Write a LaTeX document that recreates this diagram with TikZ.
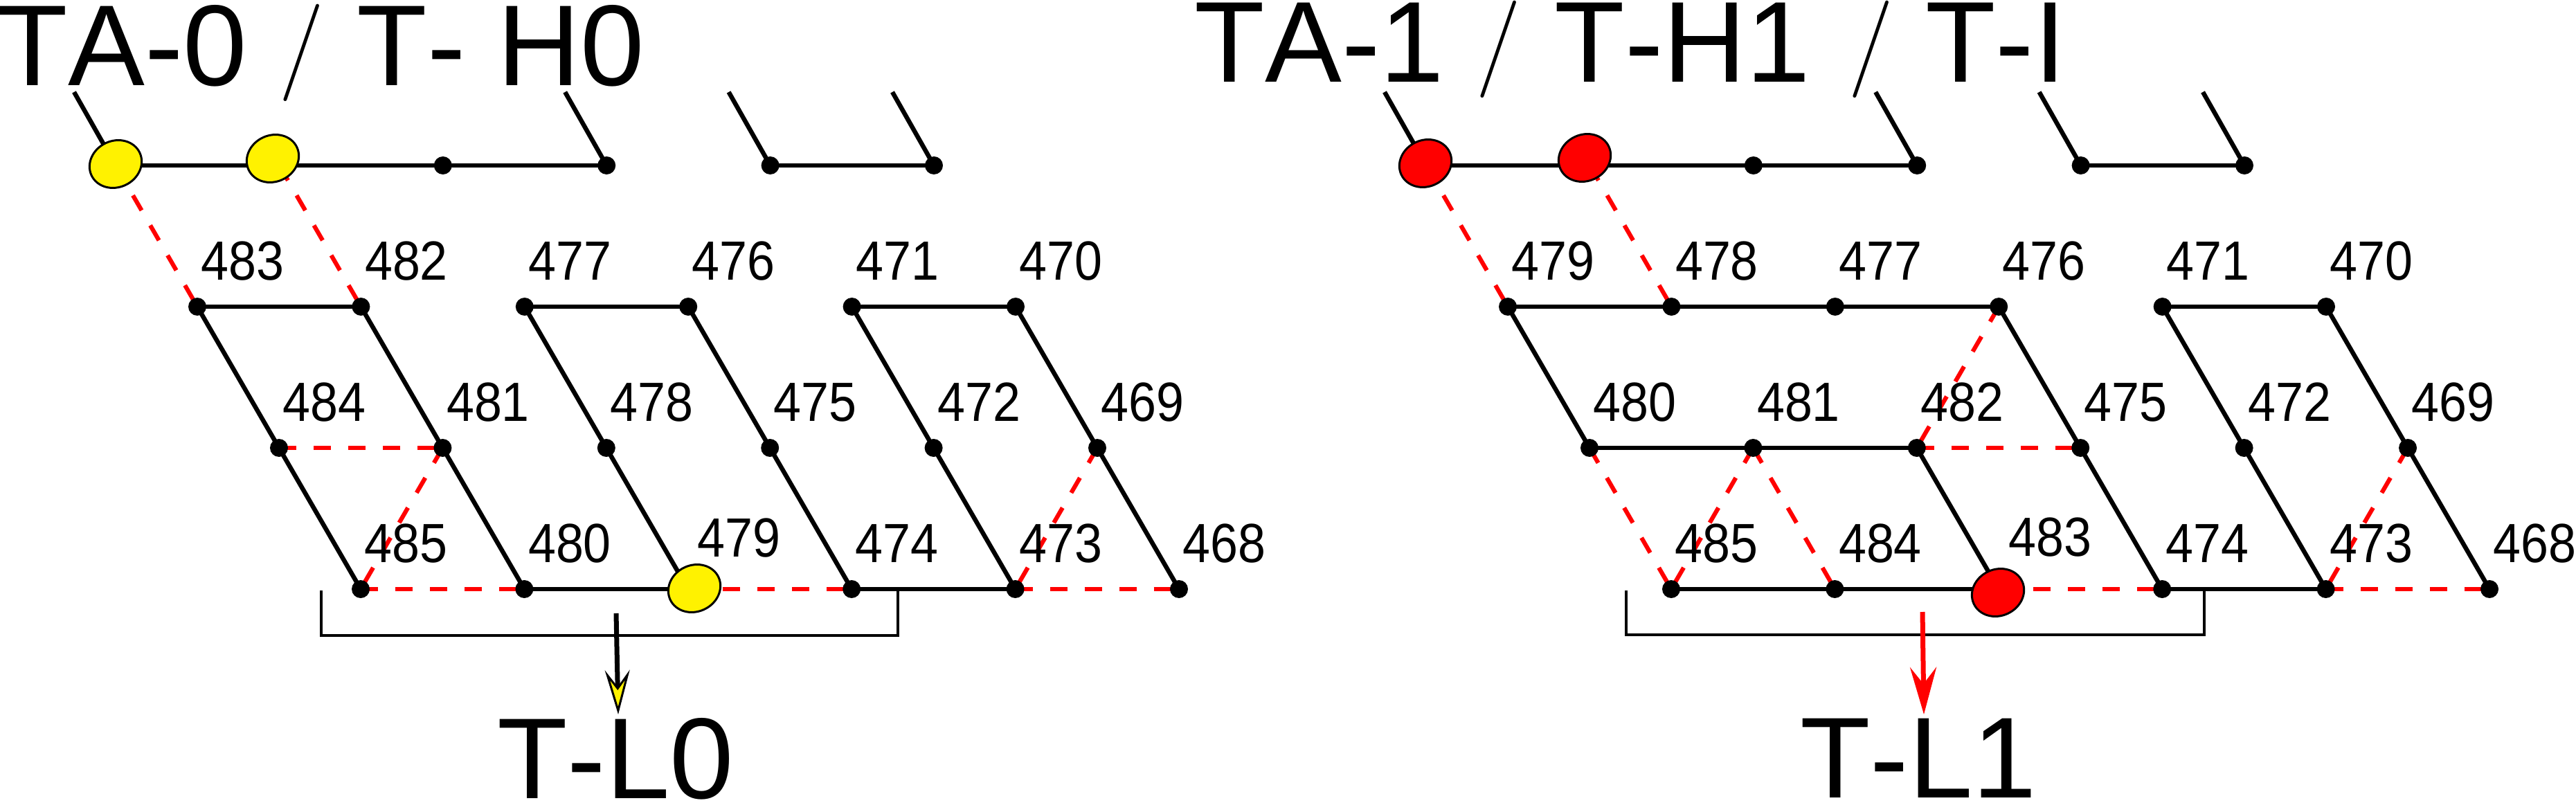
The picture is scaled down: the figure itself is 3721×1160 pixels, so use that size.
\documentclass[tikz,border=0pt]{standalone}
\usepackage{fontspec}
\setmainfont{Liberation Sans}[Kerning=Off]
\newfontfamily\lblfont{Liberation Sans}[FakeStretch=0.9]
\usetikzlibrary{arrows.meta,shapes.geometric}
\newcommand\bigsl{\raisebox{1.2mm}{\fontfamily{lmr}\fontsize{40pt}{48pt}\selectfont /}}
\begin{document}
\begin{tikzpicture}[x=0.1mm,y=-0.1mm,
  ln/.style={line width=0.65mm, black},
  rd/.style={line width=0.62mm, red, dash pattern=on 2.5mm off 2.5mm},
  br/.style={line width=0.33mm, black},
  dot/.style={circle, fill=black, minimum size=2.6mm, inner sep=0pt},
  yel/.style={ellipse, draw=black, line width=0.3mm, fill=yellow, minimum width=7.7mm, minimum height=6.7mm, inner sep=0pt, rotate=25},
  rel/.style={ellipse, draw=black, line width=0.3mm, fill=red, minimum width=7.7mm, minimum height=6.7mm, inner sep=0pt, rotate=25},
  ttl/.style={font=\fontsize{47.3pt}{56pt}\selectfont, inner sep=0pt, text depth=0pt, text height=0.7em},
  lbl/.style={font=\lblfont\fontsize{22.7pt}{27pt}\selectfont, inner sep=0pt, anchor=base west},
]
\useasboundingbox (0,0) rectangle (3721,1160);
% lattice points
\foreach \p/\off in {A/0,B/1893} {
  \foreach \r in {0,...,3} {
    \foreach \c in {0,...,5} {
      \coordinate (\p\r\c) at ({167+236.4*\c+118*\r+\off},{239+204*\r});
    }
  }
  \foreach \c in {0,3,4,5} {
    \coordinate (\p s\c) at ({167+236.4*\c-60+\off},{239-106});
  }
}
% ---------- common edges (both panels)
\foreach \p in {A,B} {
  \draw[ln] (\p00) -- (\p01) -- (\p02) -- (\p03);
  \draw[ln] (\p04) -- (\p05);
  \foreach \c in {0,3,4,5} { \draw[ln] (\p0\c) -- (\p s\c); }
  \draw[rd] (\p00) -- (\p10);
  \draw[rd] (\p01) -- (\p11);
  \draw[ln] (\p14) -- (\p15);
  \draw[rd] (\p25) -- (\p34);
  \draw[rd] (\p21) -- (\p30);
  \draw[rd] (\p32) -- (\p33);
  \draw[rd] (\p34) -- (\p35);
  \draw[ln] (\p33) -- (\p34);
  \foreach \c in {3,4,5} { \draw[ln] (\p1\c) -- (\p2\c); \draw[ln] (\p2\c) -- (\p3\c); }
}
% ---------- left panel
\draw[ln] (A10) -- (A11);
\draw[ln] (A12) -- (A13);
\foreach \c in {0,1,2} { \draw[ln] (A1\c) -- (A2\c); \draw[ln] (A2\c) -- (A3\c); }
\draw[rd] (A20) -- (A21);
\draw[rd] (A30) -- (A31);
\draw[ln] (A31) -- (A32);
% ---------- right panel
\draw[ln] (B10) -- (B11) -- (B12) -- (B13);
\draw[ln] (B10) -- (B20);
\draw[rd] (B13) -- (B22);
\draw[ln] (B20) -- (B21) -- (B22);
\draw[rd] (B22) -- (B23);
\draw[rd] (B20) -- (B30);
\draw[rd] (B21) -- (B31);
\draw[ln] (B22) -- (B32);
\draw[ln] (B30) -- (B31) -- (B32);
% ---------- dots
\foreach \p in {A,B} {
  \foreach \r/\c in {0/2,0/3,0/4,0/5,1/0,1/1,1/2,1/3,1/4,1/5,2/0,2/1,2/2,2/3,2/4,2/5,3/0,3/1,3/3,3/4,3/5} {
    \node[dot] (d\p\r\c) at (\p\r\c) {};
  }
}
% ---------- coloured ellipses
\node[yel] (yA1) at (167,237) {};
\node[yel] (yA2) at (394,229) {};
\node[yel] (yA3) at (1003,850) {};
\node[rel] (rB1) at (2059,236) {};
\node[rel] (rB2) at (2289,228) {};
\node[rel] (rB3) at (2886,856) {};
% ---------- labels
\foreach \n/\r/\c in {483/1/0,482/1/1,477/1/2,476/1/3,471/1/4,470/1/5,
                      484/2/0,481/2/1,478/2/2,475/2/3,472/2/4,469/2/5,
                      485/3/0,480/3/1,474/3/3,473/3/4,468/3/5} {
  \node[lbl, xshift=0.5mm, yshift=3.9mm] (tA\n) at (A\r\c) {\n};
}
\foreach \n/\r/\c in {479/1/0,478/1/1,477/1/2,476/1/3,471/1/4,470/1/5,
                      480/2/0,481/2/1,482/2/2,475/2/3,472/2/4,469/2/5,
                      485/3/0,484/3/1,474/3/3,473/3/4,468/3/5} {
  \node[lbl, xshift=0.5mm, yshift=3.9mm] (tB\n) at (B\r\c) {\n};
}
\node[lbl] (tA479) at (1007,804) {479};
\node[lbl] (tB483) at (2901,803) {483};
% ---------- brackets
\coordinate (bA1) at (464,853); \coordinate (bA2) at (464,918);
\coordinate (bA3) at (1297,918); \coordinate (bA4) at (1297,851);
\draw[br] (bA1) -- (bA2) -- (bA3) -- (bA4);
\coordinate (bB1) at (2349,853); \coordinate (bB2) at (2349,917);
\coordinate (bB3) at (3184,917); \coordinate (bB4) at (3184,851);
\draw[br] (bB1) -- (bB2) -- (bB3) -- (bB4);
% ---------- arrows
\coordinate (aA0) at (890,886); \coordinate (aA1) at (893,1032);
\coordinate (aB0) at (2777,884); \coordinate (aB1) at (2779,1032);
\draw[line width=0.7mm, black, -{Stealth[length=6.4mm,width=3.6mm,inset=2.4mm,fill=yellow,line width=0.3mm]}] (aA0) -- (aA1);
\draw[line width=0.7mm, red, -{Stealth[length=6.8mm,width=3.8mm,inset=2.4mm]}] (aB0) -- (aB1);
% ---------- titles
\node[ttl, anchor=base west] (title0) at (-4,124) {TA-0 \bigsl{} \hspace{0.2mm}T- H0};
\node[ttl, anchor=base west] (title1) at (1725,119) {TA-1 \bigsl{} \hspace{0.3mm}T-H1 \hspace{0.9mm}\bigsl{} T-I};
\node[ttl, anchor=base] (tl0) at (889,1153) {T-L0};
\node[ttl, anchor=base] (tl1) at (2771,1152) {T-L1};
\end{tikzpicture}
\end{document}
